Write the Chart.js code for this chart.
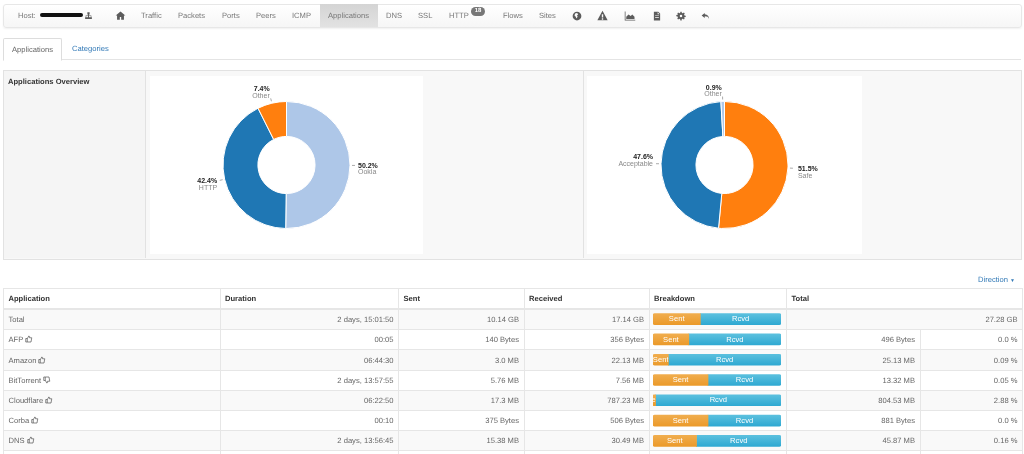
<!DOCTYPE html>
<html>
<head>
<meta charset="utf-8">
<title>Applications</title>
<script src="https://cdn.jsdelivr.net/npm/chart.js@4/dist/chart.umd.min.js"></script>
<style>
  html, body { margin: 0; padding: 0; background: #fff; overflow: hidden; width: 1024px; height: 454px; }
  body { font: 7.6px "Liberation Sans", Arial, sans-serif; color: #666; position: relative; text-rendering: geometricPrecision; }
  .abs { position: absolute; white-space: nowrap; will-change: transform; }
  a { color: #337ab7; text-decoration: none; }
  #navbar { left: 3px; top: 4px; width: 1017px; height: 22px; border: 1px solid #e7e7e7; border-radius: 3px;
            background: linear-gradient(#fff, #f6f6f6); box-shadow: 0 1px 2px rgba(0,0,0,.06); }
  #active { left: 320px; top: 4px; width: 58px; height: 23px; background: linear-gradient(#d4d4d4, #e2e2e2); }
  .nav { top: 11px; color: #777; line-height: 9px; }
  .ico { position: absolute; fill: #5c5c5c; }
  #badge { left: 471px; top: 7px; width: 14px; height: 9px; border-radius: 5px; background: #777; color: #fff;
           font: bold 6px/9px "Liberation Sans"; text-align: center; }
  #redact { left: 40px; top: 13px; width: 43px; height: 4px; border-radius: 2px; background: #111; }
  #tabline { left: 3px; top: 59px; width: 1018px; height: 1px; background: #e4e4e4; }
  #tab { left: 3px; top: 38px; width: 57px; height: 21px; border: 1px solid #ddd; border-bottom: 1px solid #fff; border-radius: 2px 2px 0 0;
         background: #fff; line-height: 21px; text-align: center; color: #666; }
  #panel { left: 3px; top: 70px; width: 1017px; height: 188px; border: 1px solid #e2e2e2; background: #f8f8f8; }
  .vline { width: 1px; background: #e2e2e2; }
  canvas { position: absolute; background: transparent; }
  table { position: absolute; left: 3px; top: 288px; width: 1019px; table-layout: fixed; border-collapse: collapse; will-change: transform; }
  td, th { border: 1px solid #e6e6e6; padding: 0 4.500px; box-sizing: border-box; font-size: 7.6px; font-weight: normal; overflow: hidden; white-space: nowrap; color: #666; }
  th { text-align: left; font-weight: bold; color: #333; border-bottom: 2px solid #e6e6e6; }
  td.r { text-align: right; }
  tr.odd td { background: #f9f9f9; }
  td svg { vertical-align: -1px; fill: none; stroke: #555; stroke-width: 1.4; }
</style>
</head>
<body>

<div class="abs" id="navbar"></div>
<div class="abs" id="active"></div>
<div id="navItems"></div>
<div class="abs" id="badge">18</div>
<div class="abs" id="redact"></div>

<div class="abs" id="tabline"></div>
<div class="abs" id="tab">Applications</div>
<a class="abs" style="left:72px;top:44px">Categories</a>

<div class="abs" id="panel"></div>
<div class="abs" style="left:4px;top:71px;width:141px;height:187px;background:#f5f5f5"></div>
<div class="abs vline" style="left:145px;top:71px;height:187px"></div>
<div class="abs vline" style="left:583px;top:71px;height:187px"></div>
<b class="abs" style="left:8px;top:77px;color:#333">Applications Overview</b>

<canvas id="appsChart" width="273" height="178" style="left:150px;top:76px;background:#fff"></canvas>
<canvas id="safeChart" width="275" height="178" style="left:587px;top:76px;background:#fff"></canvas>

<a class="abs" style="left:978px;top:275px">Direction <span style="font-size:5px">&#9660;</span></a>

<table id="apps"></table>
<canvas id="bars" width="128" height="142" style="left:653px;top:309px"></canvas>

<script>
// Top bar
const navLabels = ['Host:', 'Traffic', 'Packets', 'Ports', 'Peers', 'ICMP', 'Applications', 'DNS', 'SSL', 'HTTP', 'Flows', 'Sites'];
const navLefts = [18, 141, 178, 222, 256, 292, 328, 386, 418, 449, 503, 539];

// Donut charts
const appLabels = ['Ookla', 'HTTP', 'Other'];
const appValues = [50.2, 42.4, 7.4];
const safeLabels = ['Safe', 'Acceptable', 'Other'];
const safeValues = [51.5, 47.6, 0.9];

// Table
const rowNames = ['Total', 'AFP', 'Amazon', 'BitTorrent', 'Cloudflare', 'Corba', 'DNS'];
const rowVerdicts = ['', 'up', 'up', 'down', 'up', 'up', 'up'];
const durations = ['2 days, 15:01:50', '00:05', '06:44:30', '2 days, 13:57:55', '06:22:50', '00:10', '2 days, 13:56:45'];
const sentText = ['10.14 GB', '140 Bytes', '3.0 MB', '5.76 MB', '17.3 MB', '375 Bytes', '15.38 MB'];
const receivedText = ['17.14 GB', '356 Bytes', '22.13 MB', '7.56 MB', '787.23 MB', '506 Bytes', '30.49 MB'];
const totalText = ['27.28 GB', '496 Bytes', '25.13 MB', '13.32 MB', '804.53 MB', '881 Bytes', '45.87 MB'];
const shareText = ['', '0.0 %', '0.09 %', '0.05 %', '2.88 %', '0.0 %', '0.16 %'];

// Breakdown bars, percent of the row
const sentShare = [37, 28, 12, 43, 2, 43, 34];
const rcvdShare = [63, 72, 88, 57, 98, 57, 66];

// Icons
const icons = {
  home: 'M8 2 1 8h2v6h4v-4h2v4h4V8h2z',
  network: 'M6 2h4v4H9v2h4v3h1v3h-4v-3h2V9H9v2h1v3H6v-3h1V9H4v2h2v3H2v-3h1V8h4V6H6z',
  globe: 'M8 1a7 7 0 1 0 0 14A7 7 0 0 0 8 1zM5 4l3-1 2 2-2 2 1 2-2 3-1-3-2-2z',
  warning: 'M8 1 .5 15h15zM7 6h2v5H7zm0 6h2v2H7z',
  area: 'M1 2h1v11h13v1H1zm2 10V9l3-3 3 2 2-2 3 3v3z',
  file: 'M3 1h7l3 3v11H3zm2 6v1h6V7zm0 3v1h6v-1zM9 2v3h3z',
  cog: 'M7 1h2l.4 2 1.5.6L12.6 2.5 14 4l-1.1 1.7.6 1.4 2 .4v2l-2 .4-.6 1.4L14 12l-1.4 1.4-1.7-1.1-1.5.6L9 15H7l-.4-2-1.5-.6-1.7 1.1L2 12l1.1-1.7-.6-1.4-2-.4v-2l2-.4.6-1.4L2 4l1.4-1.5 1.7 1.1L6.6 3zM8 6a2 2 0 1 0 0 4 2 2 0 0 0 0-4z',
  reply: 'M6 3 1 7l5 4V8.5c4 0 6 1 7 4.5 0-5-2.500-7.500-7-8z'
};
const thumbUp = 'M1.500 7h3v7h-3zM4.500 7.500 7.500 2c1.500 0 2 1 1.500 3.500h4.500l-1.500 8.500H4.500';
const thumbDown = 'M1.500 2h3v7h-3zM4.500 8.500 7.500 14c1.500 0 2-1 1.500-3.500h4.500l-1.500-8.500H4.500';

function svgIcon(path, left, size) {
  return `<svg class="ico" viewBox="0 0 16 16" width="${size}" height="${size}" style="left:${left}px;top:${15.5 - size / 2}px"><path fill-rule="evenodd" d="${path}"/></svg>`;
}

document.getElementById('navItems').innerHTML =
  navLabels.map((t, i) => `<div class="abs nav" style="left:${navLefts[i]}px">${t}</div>`).join('') +
  svgIcon(icons.network, 84, 9) + svgIcon(icons.home, 115, 11) + svgIcon(icons.globe, 572, 10) +
  svgIcon(icons.warning, 597, 11) + svgIcon(icons.area, 624, 12) + svgIcon(icons.file, 652, 10) +
  svgIcon(icons.cog, 676, 10) + svgIcon(icons.reply, 701, 10);

// Table rows. Row heights follow the reference, which is not quite even
const rowHeights = [21, 20, 21, 20, 20, 20, 20];

function thumb(kind) {
  if (!kind) return '';
  return ` <svg viewBox="0 0 16 16" width="8" height="8"><path d="${kind === 'up' ? thumbUp : thumbDown}"/></svg>`;
}

let html = `<colgroup><col style="width:216.500px"><col style="width:178.500px"><col style="width:125.500px"><col style="width:125px"><col style="width:137.500px"><col style="width:133.500px"><col style="width:102.500px"></colgroup>`;
html += '<tr style="height:20px"><th>Application</th><th>Duration</th><th>Sent</th><th>Received</th><th>Breakdown</th><th colspan="2">Total</th></tr>';
rowNames.forEach((name, i) => {
  const totals = i === 0
    ? `<td class="r" colspan="2">${totalText[i]}</td>`
    : `<td class="r">${totalText[i]}</td><td class="r">${shareText[i]}</td>`;
  html += `<tr class="${i % 2 === 0 ? 'odd' : ''}" style="height:${rowHeights[i]}px"><td>${name}${thumb(rowVerdicts[i])}</td><td class="r">${durations[i]}</td><td class="r">${sentText[i]}</td><td class="r">${receivedText[i]}</td><td></td>${totals}</tr>`;
});
html += '<tr style="height:20px"><td></td><td></td><td></td><td></td><td></td><td></td><td></td></tr>';
document.getElementById('apps').innerHTML = html;

// Labels around the donuts, with a short tick from the ring
const donutLabels = {
  id: 'donutLabels',
  afterDraw(chart, args, opts) {
    const ctx = chart.ctx;
    const labels = chart.data.labels;
    const values = chart.data.datasets[0].data;
    chart.getDatasetMeta(0).data.forEach((arc, i) => {
      const mid = (arc.startAngle + arc.endAngle) / 2;
      const cos = Math.cos(mid), sin = Math.sin(mid);
      const x = arc.x + cos * (arc.outerRadius + 5);
      const y = arc.y + sin * (arc.outerRadius + 5);
      ctx.strokeStyle = '#aaa';
      ctx.lineWidth = 1;
      ctx.beginPath();
      ctx.moveTo(arc.x + cos * (arc.outerRadius + 2), arc.y + sin * (arc.outerRadius + 2));
      ctx.lineTo(x, y);
      ctx.stroke();

      const nudge = opts.nudges[i];
      ctx.textAlign = cos > 0 ? 'left' : 'right';
      ctx.textBaseline = 'middle';
      ctx.fillStyle = '#222';
      ctx.font = 'bold 7px "Liberation Sans"';
      ctx.fillText(values[i].toFixed(1) + '%', x + nudge[0], y + nudge[1]);
      ctx.fillStyle = '#888';
      ctx.font = '7px "Liberation Sans"';
      ctx.fillText(labels[i], x + nudge[0], y + nudge[1] + 6.6);
    });
  }
};

function donut(id, labels, values, colors, nudges) {
  return new Chart(document.getElementById(id), {
    type: 'doughnut',
    data: { labels: labels, datasets: [{ data: values, backgroundColor: colors, borderColor: '#fff', borderWidth: 1 }] },
    options: {
      responsive: false,
      animation: false,
      radius: 63.5,
      cutout: '45%',
      plugins: { legend: { display: false }, tooltip: { enabled: false }, donutLabels: { nudges: nudges } }
    },
    plugins: [donutLabels]
  });
}

donut('appsChart', appLabels, appValues, ['#aec7e8', '#1f77b4', '#ff7f0e'], [[3, 0.3], [-2.6, 0.9], [-1, -9]]);
donut('safeChart', safeLabels, safeValues, ['#ff7f0e', '#1f77b4', '#aec7e8'], [[5, 0.8], [-3, -6.4], [-0.8, -8.8]]);

// Breakdown column: one stacked horizontal bar per table row
function barFill(top, bottom) {
  return function(c) {
    const scale = c.chart.scales.y;
    const y = scale ? scale.getPixelForValue(c.dataIndex) : NaN;
    if (!Number.isFinite(y)) return bottom;
    const g = c.chart.ctx.createLinearGradient(0, y - 5.5, 0, y + 5.5);
    g.addColorStop(0, top);
    g.addColorStop(1, bottom);
    return g;
  };
}

const barText = {
  id: 'barText',
  afterDatasetsDraw(chart) {
    const ctx = chart.ctx;
    chart.data.datasets.forEach((ds, d) => {
      chart.getDatasetMeta(d).data.forEach(bar => {
        ctx.save();
        ctx.beginPath();
        ctx.rect(bar.base, bar.y - 5.5, bar.x - bar.base, 11);
        ctx.clip();
        ctx.fillStyle = '#fff';
        ctx.font = '7.6px "Liberation Sans"';
        ctx.textAlign = 'center';
        ctx.textBaseline = 'middle';
        ctx.fillText(ds.label, (bar.base + bar.x) / 2, bar.y);
        ctx.restore();
      });
    });
  }
};

new Chart(document.getElementById('bars'), {
  type: 'bar',
  data: {
    labels: rowNames,
    datasets: [
      { label: 'Sent', data: sentShare, backgroundColor: barFill('#f0ad4e', '#eb9a2a'), borderRadius: { topLeft: 2, bottomLeft: 2 }, borderSkipped: false },
      { label: 'Rcvd', data: rcvdShare, backgroundColor: barFill('#5bc0de', '#2fa9d2'), borderRadius: { topRight: 2, bottomRight: 2 }, borderSkipped: false }
    ]
  },
  options: {
    indexAxis: 'y',
    responsive: false,
    animation: false,
    barThickness: 11,
    layout: { padding: 0 },
    scales: {
      x: { stacked: true, min: 0, max: 100, display: false },
      y: { stacked: true, display: false }
    },
    plugins: { legend: { display: false }, tooltip: { enabled: false } }
  },
  plugins: [barText]
});
</script>
</body>
</html>
